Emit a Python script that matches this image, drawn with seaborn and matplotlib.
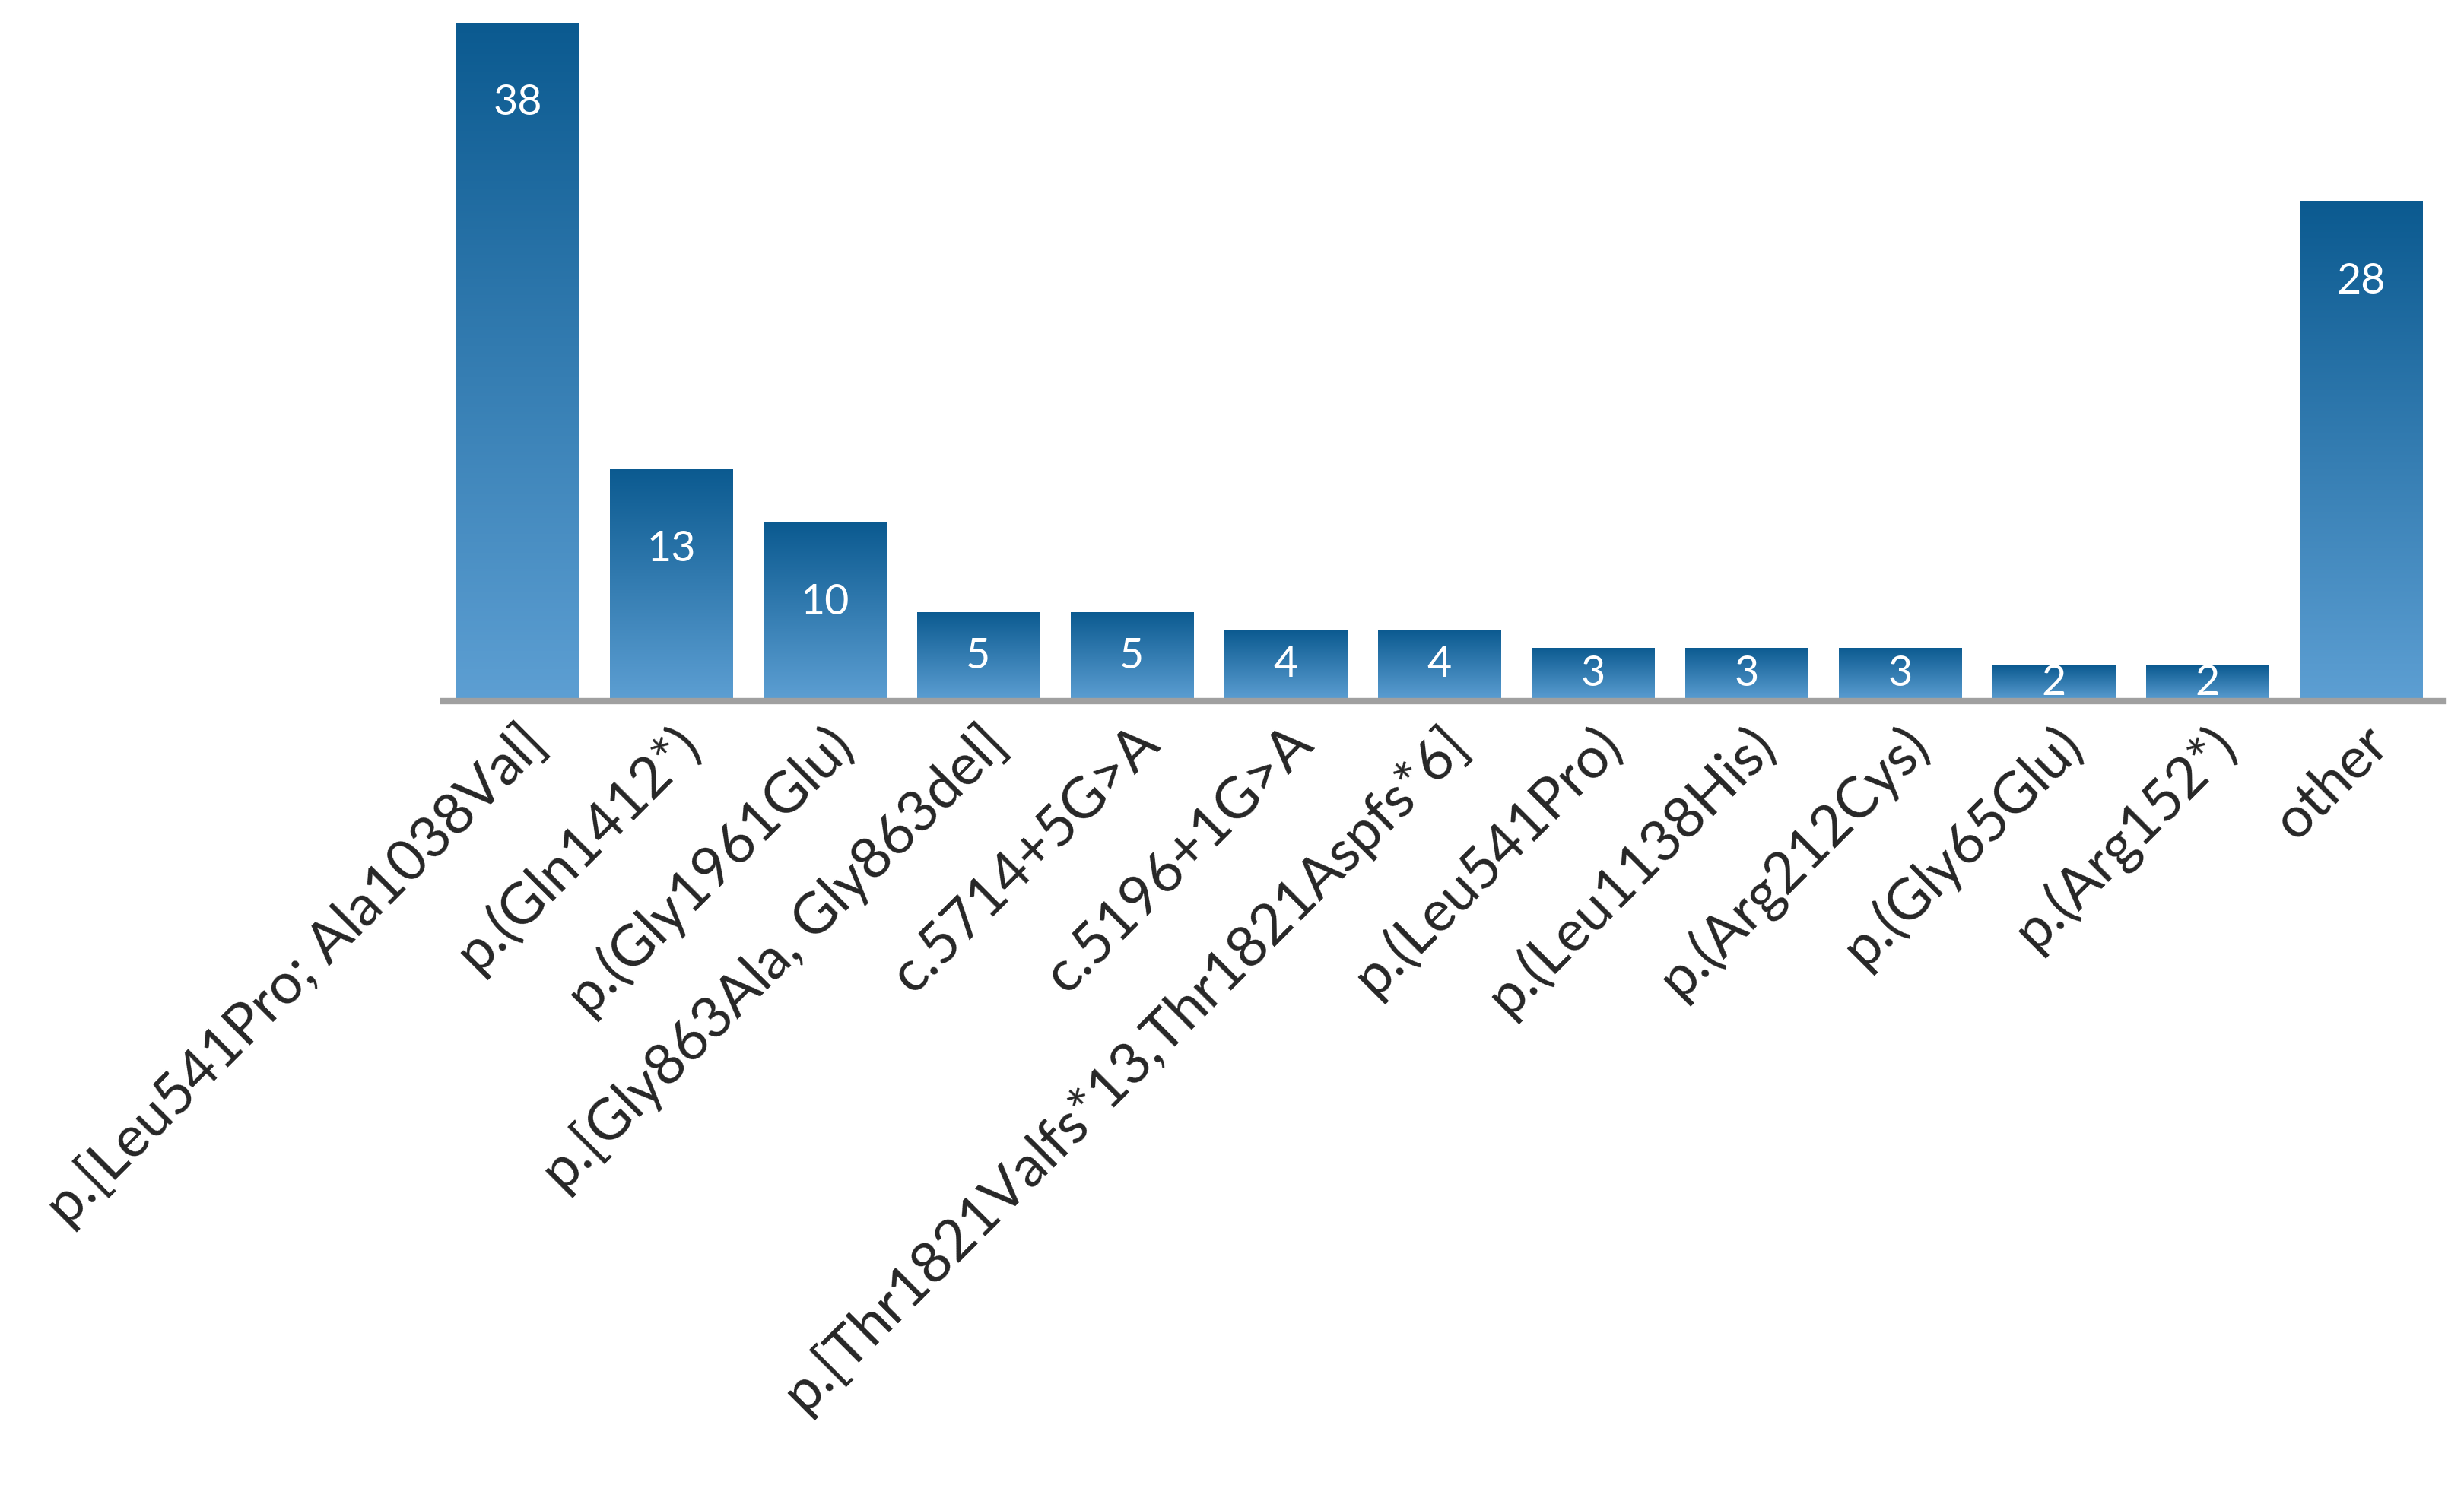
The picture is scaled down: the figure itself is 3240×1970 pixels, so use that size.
import numpy as np
import matplotlib
matplotlib.use("Agg")
import matplotlib.pyplot as plt
import matplotlib.colors as mcolors
import seaborn as sns
import pandas as pd

# data
variants = ["p.[Leu541Pro; Ala1038Val]", "p.(Gln1412*)", "p.(Gly1961Glu)",
            "p.[Gly863Ala, Gly863del]", "c.5714+5G>A", "c.5196+1G>A",
            "p.[Thr1821Valfs*13,Thr1821Aspfs*6]", "p.(Leu541Pro)",
            "p.(Leu1138His)", "p.(Arg212Cys)", "p.(Gly65Glu)", "p.(Arg152*)",
            "other"]
counts = [38, 13, 10, 5, 5, 4, 4, 3, 3, 3, 2, 2, 28]

df = pd.DataFrame({"variant": variants, "count": counts})

sns.set_style("white")
plt.rcParams['font.family'] = ['Lato', 'DejaVu Sans']

fig = plt.figure(figsize=(32.41, 19.70), dpi=100)
ax = fig.add_axes([0.18, 0.532, 0.811, 0.453])
sns.barplot(data=df, x="variant", y="count", color="#3a7fb8", width=0.8, ax=ax)

# vertical gradient fill per bar
cmap = mcolors.LinearSegmentedColormap.from_list("g", ["#5d9fd3", "#0b5a90"])
grad = np.linspace(0, 1, 256).reshape(-1, 1)
for p in ax.patches:
    x0, y0 = p.get_x(), p.get_y()
    w, h = p.get_width(), p.get_height()
    im = ax.imshow(grad, cmap=cmap, extent=[x0, x0 + w, y0, y0 + h],
                   origin="lower", aspect="auto", zorder=2)
    im.set_clip_path(p)
    p.set_alpha(0)

for i, v in enumerate(counts):
    ax.text(i, max(v - 4.5, v / 2), str(v), ha="center", va="center",
            color="white", fontsize=40, zorder=3)

ax.set_xlim(-0.48, len(counts) - 0.47)
ax.set_ylim(0, 38)
ax.set_xlabel("")
ax.set_ylabel("")
ax.set_yticks([])
for s in ["top", "right", "left"]:
    ax.spines[s].set_visible(False)
ax.spines["bottom"].set_color("#a0a0a0")
ax.spines["bottom"].set_linewidth(6)
ax.tick_params(axis="x", length=0, pad=14)
plt.setp(ax.get_xticklabels(), rotation=45, ha="right",
         rotation_mode="anchor", fontsize=54)

fig.savefig("out.png", dpi=100)
